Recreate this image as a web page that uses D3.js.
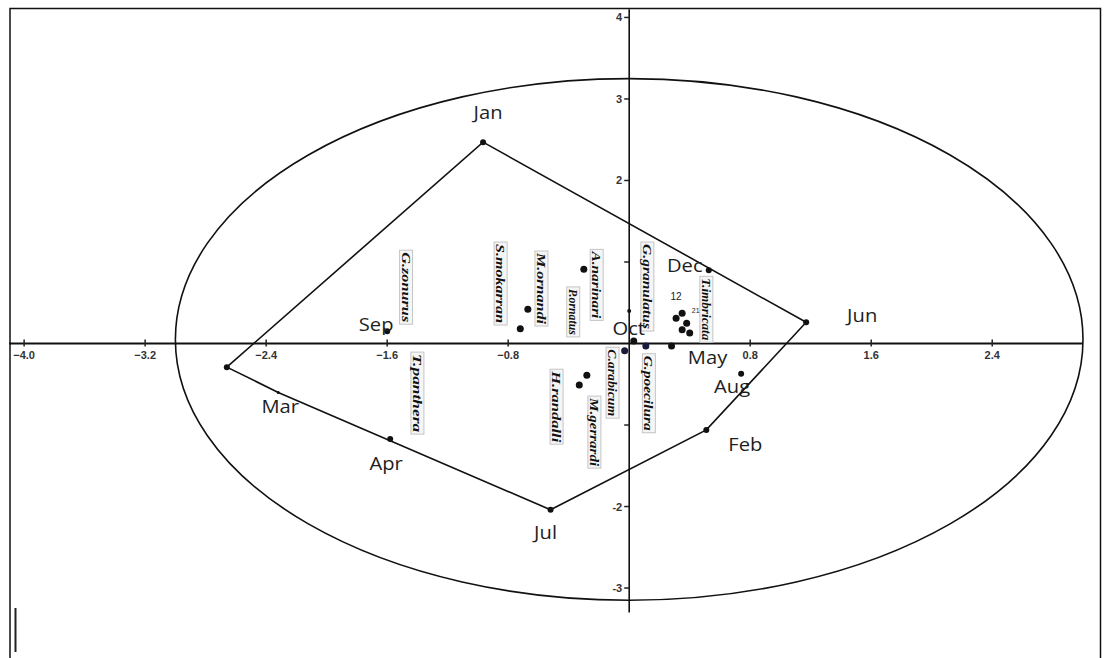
<!DOCTYPE html>
<html>
<head>
<meta charset="utf-8">
<script src="https://cdn.jsdelivr.net/npm/d3@7"></script>
<style>
  html, body { margin: 0; padding: 0; background: #fff; }
  svg { display: block; }
</style>
</head>
<body>
<svg id="chart" width="1111" height="658"></svg>
<script>
// Axis ticks
const xTicks = [-4.0, -3.2, -2.4, -1.6, -0.8, 0.8, 1.6, 2.4];
const yTicks = [4, 3, 2, 1, -1, -2, -3];
const yTickLabels = ["4", "3", "2", "", "", "-2", "-3"];

// Sampling months (ordination scores)
const monthNames = ["Jan", "Nov", "Mar", "Apr", "Jul", "Feb", "Aug", "Jun", "Sep", "Oct", "May", "Dec"];
const monthX = [-0.966, -2.66, -2.32, -1.58, -0.52, 0.51, 0.74, 1.17, -1.60, 0.03, 0.28, 0.526];
const monthY = [2.47, -0.29, -0.60, -1.17, -2.04, -1.06, -0.37, 0.26, 0.15, 0.03, -0.03, 0.90];
const monthShown = [true, false, true, true, true, true, true, true, true, true, true, true];

// Species scores
const speciesX = [-0.30, -0.67, -0.72, -0.28, -0.33, 0.31, 0.35, 0.35, 0.38, 0.40, 0.11, -0.03, 0.0];
const speciesY = [0.91, 0.42, 0.18, -0.39, -0.51, 0.31, 0.37, 0.17, 0.25, 0.13, -0.03, -0.09, 0.40];

// Species names and where their labels sit (data units, top of the rotated label)
const speciesNames = ["G.zonurus", "T.panthera", "S.mokarran", "M.ornandi", "A.narinari", "P.ornatus",
                      "H.randalli", "M.gerrardi", "C.arabicum", "G.granulatus", "G.poecilura", "T.imbricata"];
const speciesLabelX = [-1.475, -1.40, -0.85, -0.58, -0.215, -0.37, -0.48, -0.23, -0.11, 0.12, 0.13, 0.51];
const speciesLabelY = [1.12, -0.13, 1.22, 1.11, 1.13, 0.67, -0.34, -0.67, -0.07, 1.22, -0.15, 0.80];
const speciesLabelLen = [70, 78, 79, 71, 67, 46, 71, 68, 67, 85, 75, 62];

// Small sample numbers beside the clustered points
const sampleNums = ["12", "21"];
const sampleX = [0.31, 0.44];
const sampleY = [0.53, 0.38];

// Confidence ellipse
const ellipseCenter = [0.0, 0.05];
const ellipseRadii = [3.0, 3.2];

const svg = d3.select("#chart");
const W = 1111, H = 658;

const x = d3.scaleLinear().domain([-4.1, 3.0]).range([9, 1083]);
const y = d3.scaleLinear().domain([-3.3, 4.1]).range([612.5, 9.3]);

// frame
svg.append("path")
  .attr("d", `M10,${H} L10,8.5 L1100.5,8.5 L1100.5,${H}`)
  .attr("fill", "none").attr("stroke", "#111").attr("stroke-width", 1.5);
svg.append("line").attr("x1", 15.5).attr("x2", 15.5).attr("y1", 608).attr("y2", 652)
  .attr("stroke", "#222").attr("stroke-width", 2);

// ellipse
svg.append("ellipse")
  .attr("cx", x(ellipseCenter[0])).attr("cy", y(ellipseCenter[1]))
  .attr("rx", x(ellipseRadii[0]) - x(0)).attr("ry", y(0) - y(ellipseRadii[1]))
  .attr("fill", "none").attr("stroke", "#111").attr("stroke-width", 1.6);

// axes through the origin
const gx = svg.append("g").attr("transform", `translate(0,${y(0)})`);
gx.append("line").attr("x1", x(-4.1)).attr("x2", x(3.0))
  .attr("stroke", "#111").attr("stroke-width", 2);
gx.selectAll(".xt").data(xTicks).join("line")
  .attr("x1", d => x(d)).attr("x2", d => x(d)).attr("y1", -4).attr("y2", 3)
  .attr("stroke", "#222").attr("stroke-width", 1.5);
gx.selectAll(".xl").data(xTicks).join("text")
  .attr("x", d => x(d)).attr("y", 15)
  .attr("text-anchor", "middle")
  .attr("font-family", "Liberation Sans, Arial, sans-serif")
  .attr("font-size", 11).attr("font-weight", "bold").attr("fill", "#333")
  .text(d => d3.format(".1f")(d));

const gy = svg.append("g").attr("transform", `translate(${x(0)},0)`);
gy.append("line").attr("y1", y(4.1)).attr("y2", y(-3.3))
  .attr("stroke", "#111").attr("stroke-width", 1.6);
gy.selectAll(".yt").data(yTicks).join("line")
  .attr("y1", d => y(d)).attr("y2", d => y(d)).attr("x1", -5).attr("x2", 0)
  .attr("stroke", "#222").attr("stroke-width", 1.5);
gy.selectAll(".yl").data(yTicks).join("text")
  .attr("x", -7).attr("y", d => y(d) + 4)
  .attr("text-anchor", "end")
  .attr("font-family", "Liberation Sans, Arial, sans-serif")
  .attr("font-size", 11).attr("font-weight", "bold").attr("fill", "#333")
  .text((d, i) => yTickLabels[i]);

// convex hull of the monthly scores
const monthPts = monthNames.map((m, i) => [x(monthX[i]), y(monthY[i])]);
const hull = d3.polygonHull(monthPts);
svg.append("path")
  .attr("d", d3.line()(hull) + "Z")
  .attr("fill", "none").attr("stroke", "#111").attr("stroke-width", 1.6)
  .attr("stroke-linejoin", "miter");

// species label boxes
const lab = svg.append("g");
speciesNames.forEach((n, i) => {
  const cx = x(speciesLabelX[i]), top = y(speciesLabelY[i]), len = speciesLabelLen[i];
  lab.append("rect")
    .attr("x", cx - 6.5).attr("y", top - 2).attr("width", 13).attr("height", len + 4)
    .attr("fill", "#f5f5f5").attr("stroke", "#c4c4c4").attr("stroke-width", 1);
  lab.append("text")
    .attr("transform", `translate(${cx - 4.5},${top}) rotate(90)`)
    .attr("font-family", "Liberation Serif, Times New Roman, serif")
    .attr("font-style", "italic").attr("font-weight", "bold")
    .attr("font-size", 11.5).attr("fill", "#111")
    .attr("textLength", len).attr("lengthAdjust", "spacingAndGlyphs")
    .text(n);
});

// species points
svg.selectAll(".sp").data(speciesX).join("circle")
  .attr("cx", d => x(d)).attr("cy", (d, i) => y(speciesY[i]))
  .attr("r", (d, i) => i === 12 ? 2 : 3.5)
  .attr("fill", (d, i) => i >= 10 && i <= 11 ? "#1a1a3a" : "#111");

// sample numbers
svg.selectAll(".sn").data(sampleNums).join("text")
  .attr("x", (d, i) => x(sampleX[i])).attr("y", (d, i) => y(sampleY[i]))
  .attr("text-anchor", "middle")
  .attr("font-family", "Liberation Sans, Arial, sans-serif")
  .attr("font-size", (d, i) => i === 0 ? 10 : 7).attr("fill", "#222")
  .text(d => d);

// month points
svg.selectAll(".mp").data(monthNames).join("circle")
  .attr("cx", (d, i) => x(monthX[i])).attr("cy", (d, i) => y(monthY[i]))
  .attr("r", (d, i) => (d === "Mar" ? 1.5 : (d === "Oct" || d === "May") ? 3.5 : 3))
  .attr("fill", "#111");

// month labels (offsets in px from the point)
const monthDx = [5, 0, 2, -4, -5, 39, -9, 56, -11, -5, 36, -24];
const monthDy = [-23, 0, 21, 31, 29, 21, 19, 0, 0, -6, 18, 2];
svg.selectAll(".ml").data(monthNames.filter((d, i) => monthShown[i])).join("text")
  .attr("transform", d => {
    const i = monthNames.indexOf(d);
    return `translate(${x(monthX[i]) + monthDx[i]},${y(monthY[i]) + monthDy[i]}) scale(1.12,1)`;
  })
  .attr("text-anchor", "middle")
  .attr("font-family", "Open Sans, Noto Sans, sans-serif")
  .attr("font-size", 18).attr("fill", "#1e1e1e")
  .text(d => d);
</script>
</body>
</html>
